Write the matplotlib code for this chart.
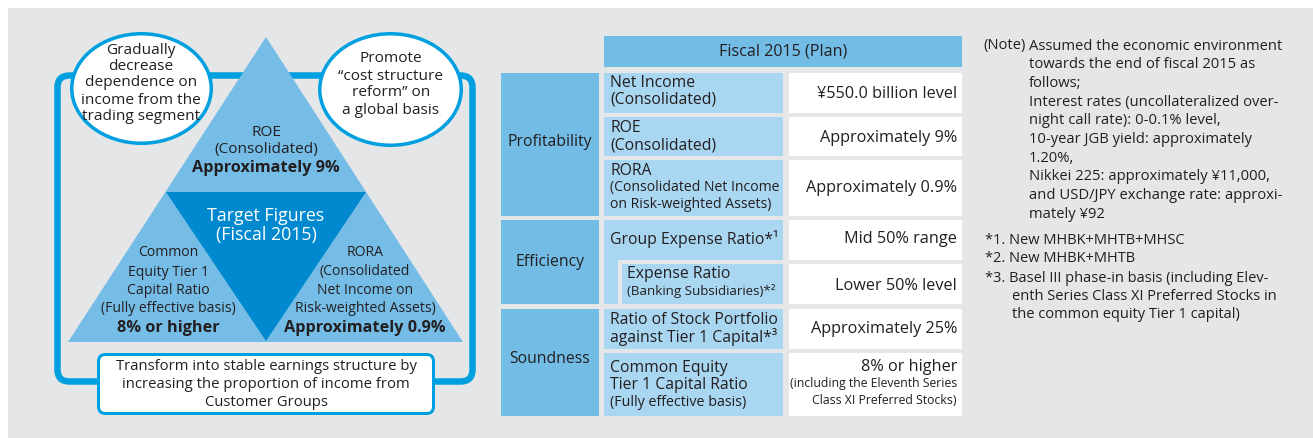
import matplotlib
matplotlib.use("Agg")
import matplotlib.pyplot as plt
from matplotlib.patches import Ellipse, FancyBboxPatch, Polygon, Rectangle

plt.rcParams["font.family"] = ["Open Sans", "DejaVu Sans"]

INK = "#231f20"
BLUE = "#00a0e0"
TRI_LIGHT = "#75bde7"
TRI_DARK = "#0089cf"
CELL_DARK = "#72bce6"
CELL_LIGHT = "#a9d6f1"
BG = "#e5e6e8"

# ---- left diagram text ----
bubble_left = ["Gradually", "decrease", "dependence on", "income from the", "trading segment"]
bubble_right = ["Promote", "\u201ccost structure", "reform\u201d on", "a global basis"]
roe_lines = ["ROE", "(Consolidated)", "Approximately 9%"]
center_lines = ["Target Figures", "(Fiscal 2015)"]
cet1_lines = ["Common", "Equity Tier 1", "Capital Ratio", "(Fully effective basis)", "8% or higher"]
rora_lines = ["RORA", "(Consolidated", "Net Income on", "Risk-weighted Assets)", "Approximately 0.9%"]
bottom_lines = ["Transform into stable earnings structure by",
                "increasing the proportion of income from",
                "Customer Groups"]

# ---- table ----
table_header = "Fiscal 2015 (Plan)"
categories = ["Profitability", "Efficiency", "Soundness"]
items = [
    ["Net Income", "(Consolidated)"],
    ["ROE", "(Consolidated)"],
    ["RORA", "(Consolidated Net Income", "on Risk-weighted Assets)"],
    ["Group Expense Ratio*\u00b9"],
    ["Expense Ratio", "(Banking Subsidiaries)*\u00b2"],
    ["Ratio of Stock Portfolio", "against Tier 1 Capital*\u00b3"],
    ["Common Equity", "Tier 1 Capital Ratio", "(Fully effective basis)"],
]
values = [
    ["\u00a5550.0 billion level"],
    ["Approximately 9%"],
    ["Approximately 0.9%"],
    ["Mid 50% range"],
    ["Lower 50% level"],
    ["Approximately 25%"],
    ["8% or higher", "(including the Eleventh Series", "Class XI Preferred Stocks)"],
]

# ---- notes ----
note_head = "(Note)"
note_lines = [
    "Assumed the economic environment",
    "towards the end of fiscal 2015 as",
    "follows;",
    "Interest rates (uncollateralized over-",
    "night call rate): 0-0.1% level,",
    "10-year JGB yield: approximately",
    "1.20%,",
    "Nikkei 225: approximately \u00a511,000,",
    "and USD/JPY exchange rate: approxi-",
    "mately \u00a592",
]
footnotes = [
    "*1. New MHBK+MHTB+MHSC",
    "*2. New MHBK+MHTB",
    "*3. Basel III phase-in basis (including Elev-",
    "enth Series Class XI Preferred Stocks in",
    "the common equity Tier 1 capital)",
]


def px(v):
    return v * 0.72


def put(ax, x, y, s, size=11.3, ha="center", weight="normal", color=INK):
    ax.text(x, y, s, fontsize=size, ha=ha, va="center", fontweight=weight,
            color=color, zorder=10)


fig = plt.figure(figsize=(13.13, 4.38), dpi=100)
ax = fig.add_axes([0, 0, 1, 1])
ax.set_xlim(0, 1313)
ax.set_ylim(438, 0)
ax.axis("off")

ax.add_patch(Rectangle((8, 8), 1313, 438, facecolor=BG, edgecolor="none", zorder=0))

# ---- left diagram ----
ax.add_patch(FancyBboxPatch((57.5, 75.5), 415, 306, boxstyle="round,pad=0,rounding_size=12",
                            facecolor="none", edgecolor=BLUE, lw=px(6.5), zorder=1))
ax.add_patch(Polygon([(266, 37), (68, 342), (463, 342)], closed=True,
                     facecolor=TRI_LIGHT, edgecolor="none", zorder=2))
ax.add_patch(Polygon([(166, 192), (366, 192), (266, 341)], closed=True,
                     facecolor=TRI_DARK, edgecolor="none", zorder=3))
ax.add_patch(Ellipse((141.5, 88.5), 139.5, 109.5, facecolor="white", edgecolor=BLUE,
                     lw=px(3.5), zorder=4))
ax.add_patch(Ellipse((390.5, 89.5), 141.5, 111.5, facecolor="white", edgecolor=BLUE,
                     lw=px(3.5), zorder=4))
ax.add_patch(FancyBboxPatch((98.5, 354.5), 335, 59, boxstyle="round,pad=0,rounding_size=7",
                            facecolor="white", edgecolor=BLUE, lw=px(3), zorder=4))

for s, y in zip(bubble_left, [50, 67, 83, 100, 117]):
    put(ax, 141, y, s, size=11.1)
for s, y in zip(bubble_right, [58, 76, 93, 110]):
    put(ax, 391, y, s, size=11.1)
for i, (s, y) in enumerate(zip(roe_lines, [132, 149, 168])):
    put(ax, 266, y, s, size=11.7 if i == 2 else 11.1, weight="bold" if i == 2 else "normal")
for s, y in zip(center_lines, [216, 235]):
    put(ax, 266, y, s, size=12.8, color="white")
for i, (s, y) in enumerate(zip(cet1_lines, [253, 272, 291, 309, 328])):
    put(ax, 168, y, s, size=11.7 if i == 4 else 10.1, weight="bold" if i == 4 else "normal")
for i, (s, y) in enumerate(zip(rora_lines, [253, 272, 291, 309, 328])):
    put(ax, 365, y, s, size=11.7 if i == 4 else 10.1, weight="bold" if i == 4 else "normal")
for s, y in zip(bottom_lines, [366, 384, 403]):
    put(ax, 266, y, s, size=10.7)

# ---- table ----
ax.add_patch(Rectangle((604, 36), 358, 31, facecolor=CELL_DARK, edgecolor="none", zorder=2))
put(ax, 783, 52, table_header, size=11.6)

cat_spans = [(73, 216), (220, 304), (309, 416)]
cat_text_y = [142, 262, 359]
for name, (y0, y1), ty in zip(categories, cat_spans, cat_text_y):
    ax.add_patch(Rectangle((501, y0), 98, y1 - y0, facecolor=CELL_DARK, edgecolor="none", zorder=2))
    put(ax, 550, ty, name, size=11.3)

row_spans = [(73, 113), (117, 156), (160, 216), (220, 260), (264, 304), (309, 349), (353, 416)]
item_y = [[83, 99], [128, 145], [171, 188, 205], [239], [274, 291], [320, 337], [368, 385, 402]]
value_y = [[94], [138], [188], [239], [286], [329], [367, 384, 401]]
item_small = {(2, 1): 10.1, (2, 2): 10.1, (4, 1): 9.6, (6, 2): 10.3}
value_small = {(6, 1): 8.8, (6, 2): 8.8}

for r, (y0, y1) in enumerate(row_spans):
    if r == 3:
        ax.add_patch(Polygon([(604, 220), (783, 220), (783, 260), (618, 260), (618, 304), (604, 304)],
                             closed=True, facecolor=CELL_LIGHT, edgecolor="none", zorder=2))
    elif r == 4:
        ax.add_patch(Rectangle((622, y0), 161, y1 - y0, facecolor=CELL_LIGHT, edgecolor="none", zorder=2))
    else:
        ax.add_patch(Rectangle((604, y0), 179, y1 - y0, facecolor=CELL_LIGHT, edgecolor="none", zorder=2))
    ax.add_patch(Rectangle((789, y0), 173, y1 - y0, facecolor="white", edgecolor="none", zorder=2))
    x_item = 627 if r == 4 else 610
    for k, (s, y) in enumerate(zip(items[r], item_y[r])):
        put(ax, x_item, y, s, size=item_small.get((r, k), 11.3), ha="left")
    for k, (s, y) in enumerate(zip(values[r], value_y[r])):
        put(ax, 957, y, s, size=value_small.get((r, k), 11.7), ha="right")

# ---- notes ----
put(ax, 983, 46, note_head, size=10.6, ha="left")
for i, s in enumerate(note_lines):
    put(ax, 1029, 46 + 18.7 * i, s, size=10.6, ha="left")
for s, x, y in zip(footnotes, [985, 985, 985, 1012, 1012], [240, 258, 278, 297, 315]):
    put(ax, x, y, s, size=10.5, ha="left")

fig.savefig("out.png", dpi=100, facecolor="white")
